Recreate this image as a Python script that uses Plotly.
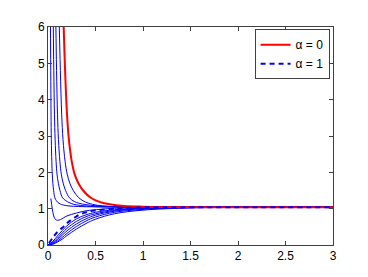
import plotly.graph_objects as go

# Red curve (alpha = 0)
red_x = [0.150, 0.165, 0.18, 0.20, 0.22, 0.25, 0.28, 0.32, 0.37, 0.45, 0.55, 0.65, 0.8, 1.0, 1.3, 1.7, 2.2, 3.0]
red_y = [7.4, 6.0, 4.8, 3.6, 2.9, 2.3, 1.95, 1.7, 1.5, 1.3, 1.18, 1.12, 1.075, 1.055, 1.045, 1.04, 1.04, 1.04]

# Blue curves above 1 (diverging at 0)
b1_x = [0.108, 0.119, 0.130, 0.144, 0.158, 0.180, 0.202, 0.230, 0.266, 0.324, 0.396, 0.468, 0.576, 0.72, 0.936, 1.3, 2.0, 3.0]
b1_y = [7.4, 6.0, 4.8, 3.6, 2.9, 2.3, 1.95, 1.7, 1.5, 1.3, 1.18, 1.12, 1.075, 1.055, 1.045, 1.04, 1.04, 1.04]
b2_x = [0.075, 0.083, 0.090, 0.100, 0.110, 0.125, 0.140, 0.160, 0.185, 0.225, 0.275, 0.325, 0.40, 0.50, 0.65, 0.85, 1.2, 3.0]
b2_y = [7.4, 6.0, 4.8, 3.6, 2.9, 2.3, 1.95, 1.7, 1.5, 1.3, 1.2, 1.15, 1.11, 1.08, 1.06, 1.048, 1.04, 1.04]
b3_x = [0.051, 0.056, 0.061, 0.068, 0.075, 0.085, 0.095, 0.109, 0.126, 0.153, 0.187, 0.221, 0.272, 0.34, 0.442, 0.6, 0.9, 1.3, 3.0]
b3_y = [7.4, 6.0, 4.8, 3.6, 2.9, 2.3, 1.95, 1.7, 1.5, 1.3, 1.22, 1.17, 1.12, 1.09, 1.065, 1.05, 1.042, 1.04, 1.04]
b4_x = [0.024, 0.026, 0.029, 0.032, 0.035, 0.040, 0.045, 0.051, 0.059, 0.072, 0.088, 0.104, 0.128, 0.16, 0.22, 0.32, 0.5, 0.8, 1.2, 3.0]
b4_y = [7.4, 6.0, 4.8, 3.6, 2.9, 2.3, 1.95, 1.7, 1.5, 1.3, 1.22, 1.17, 1.13, 1.1, 1.075, 1.06, 1.05, 1.043, 1.04, 1.04]

# Transitional curve with a dip
dip_x = [0.03, 0.045, 0.06, 0.08, 0.10, 0.13, 0.2, 0.3, 0.4, 0.55, 0.7, 1.0, 1.5, 3.0]
dip_y = [1.28, 1.0, 0.8, 0.7, 0.68, 0.7, 0.8, 0.88, 0.94, 0.98, 1.01, 1.03, 1.04, 1.04]

# Dashed curve (alpha = 1)
a1_x = [0.01, 0.05, 0.1, 0.17, 0.2, 0.3, 0.4, 0.5, 0.65, 0.8, 1.0, 1.3, 3.0]
a1_y = [0.05, 0.2, 0.36, 0.52, 0.6, 0.79, 0.9, 0.95, 0.99, 1.02, 1.035, 1.04, 1.04]

# Lower bundle (starting from 0)
low_x = [0.0, 0.05, 0.1, 0.15, 0.2, 0.3, 0.4, 0.5, 0.7, 1.0, 1.5, 2.0, 3.0]
l1_y = [0.0, 0.10, 0.25, 0.40, 0.53, 0.72, 0.83, 0.90, 0.97, 1.02, 1.04, 1.04, 1.04]
l2_y = [0.0, 0.07, 0.19, 0.33, 0.46, 0.65, 0.78, 0.86, 0.95, 1.01, 1.035, 1.04, 1.04]
l3_y = [0.0, 0.05, 0.15, 0.27, 0.39, 0.58, 0.72, 0.82, 0.93, 1.00, 1.03, 1.04, 1.04]
l4_y = [0.0, 0.035, 0.11, 0.21, 0.32, 0.51, 0.66, 0.77, 0.90, 0.98, 1.03, 1.04, 1.04]
l5_y = [0.0, 0.02, 0.08, 0.16, 0.26, 0.44, 0.59, 0.71, 0.86, 0.96, 1.02, 1.037, 1.04]

x_ticks = [0, 0.5, 1, 1.5, 2, 2.5, 3]
x_tick_labels = ["0", "0.5", "1", "1.5", "2", "2.5", "3"]
y_ticks = [0, 1, 2, 3, 4, 5, 6]

BLUE = "#0000ff"
fig = go.Figure()

thin = [(b1_x, b1_y), (b2_x, b2_y), (b3_x, b3_y), (b4_x, b4_y), (dip_x, dip_y),
        (low_x, l1_y), (low_x, l2_y), (low_x, l3_y), (low_x, l4_y), (low_x, l5_y)]
for xs, ys in thin:
    fig.add_trace(go.Scatter(x=xs, y=ys, mode="lines", line=dict(color=BLUE, width=1, shape="spline"),
                             showlegend=False, hoverinfo="skip"))

fig.add_trace(go.Scatter(x=red_x, y=red_y, mode="lines", name="α = 0",
                         line=dict(color="#ff0000", width=2, shape="spline")))
fig.add_trace(go.Scatter(x=a1_x, y=a1_y, mode="lines", name="α = 1",
                         line=dict(color=BLUE, width=2, dash="5px,4px", shape="spline")))

axis_common = dict(showgrid=False, zeroline=False, showline=True, linecolor="#404040", linewidth=1,
                   mirror="ticks", ticks="inside", ticklen=4, tickcolor="#404040",
                   tickfont=dict(family="Liberation Sans, Arial", size=12, color="#000000"))
fig.update_xaxes(range=[0, 3], tickvals=x_ticks, ticktext=x_tick_labels, **axis_common)
fig.update_yaxes(range=[0, 6], tickvals=y_ticks, **axis_common)

fig.update_layout(
    width=368, height=277,
    margin=dict(l=40, r=43, t=12, b=40),
    paper_bgcolor="white", plot_bgcolor="white",
    font=dict(family="Liberation Sans, Arial", size=12, color="#000000"),
    legend=dict(x=0.988, y=0.99, xanchor="right", yanchor="top",
                bordercolor="#404040", borderwidth=1, bgcolor="white",
                itemwidth=30, tracegroupgap=0,
                font=dict(family="Liberation Sans, Arial", size=12)),
)

fig.write_html("out.html")
